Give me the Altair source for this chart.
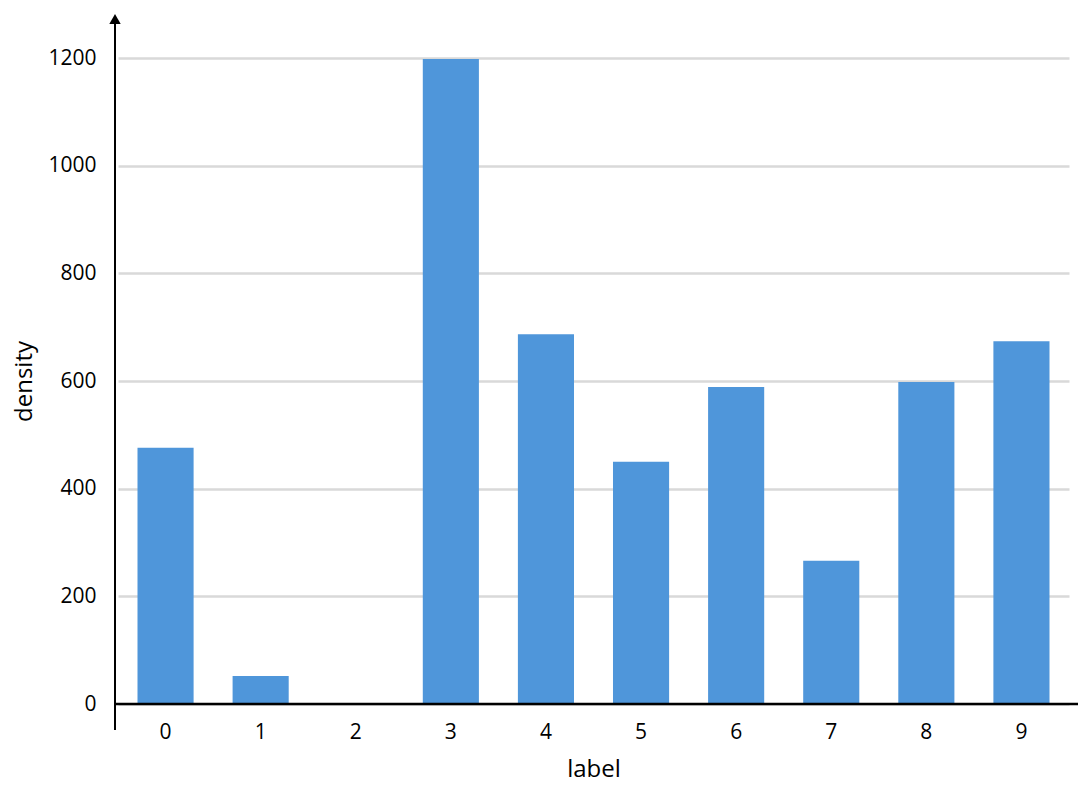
import altair as alt
import pandas as pd

labels = ["0", "1", "2", "3", "4", "5", "6", "7", "8", "9"]
density = [476, 52, 0, 1198, 687, 450, 589, 266, 598, 674]

df = pd.DataFrame({"label": labels, "density": density})

FONT = "Open Sans"
W, H = 951, 646

bars = alt.Chart(df).mark_bar(color="#4f96da").encode(
    x=alt.X("label:N", sort=labels,
            scale=alt.Scale(paddingInner=0.41, paddingOuter=0.205),
            axis=alt.Axis(title="label", labelAngle=0, ticks=False, domain=False,
                          labelPadding=17, titlePadding=15, labelFontSize=21,
                          titleFontSize=24, labelFont=FONT, titleFont=FONT,
                          labelColor="#000", titleColor="#000",
                          titleFontWeight="normal")),
    y=alt.Y("density:Q", scale=alt.Scale(domain=[0, 1200], nice=False),
            axis=alt.Axis(title="density", values=[0, 200, 400, 600, 800, 1000, 1200],
                          format="d",
                          ticks=False, domain=False, labelPadding=22,
                          gridColor="#d9d9d9", gridWidth=2.5,
                          labelFontSize=21, titleFontSize=24,
                          labelFont=FONT, titleFont=FONT,
                          labelColor="#000", titleColor="#000",
                          titleFontWeight="normal", titlePadding=11)),
)

one = alt.Data(values=[{}])

yaxis_line = alt.Chart(one).mark_rule(color="black", strokeWidth=2).encode(
    x=alt.value(-3), y=alt.value(-40), y2=alt.value(672)
)
xaxis_line = alt.Chart(one).mark_rule(color="black", strokeWidth=2.3).encode(
    x=alt.value(-3), x2=alt.value(960), y=alt.value(H)
)
arrow = alt.Chart(one).mark_point(shape="triangle-up", filled=True, color="black",
                                  size=130, opacity=1).encode(
    x=alt.value(-3), y=alt.value(-39)
)

chart = alt.layer(bars, yaxis_line, xaxis_line, arrow).properties(
    width=W, height=H,
    autosize=alt.AutoSizeParams(type="none"),
    padding={"left": 110, "top": 50, "right": 12, "bottom": 82},
    background="white",
).configure_view(stroke=None)

chart.save("out.html", embed_options={"renderer": "svg", "actions": False})
